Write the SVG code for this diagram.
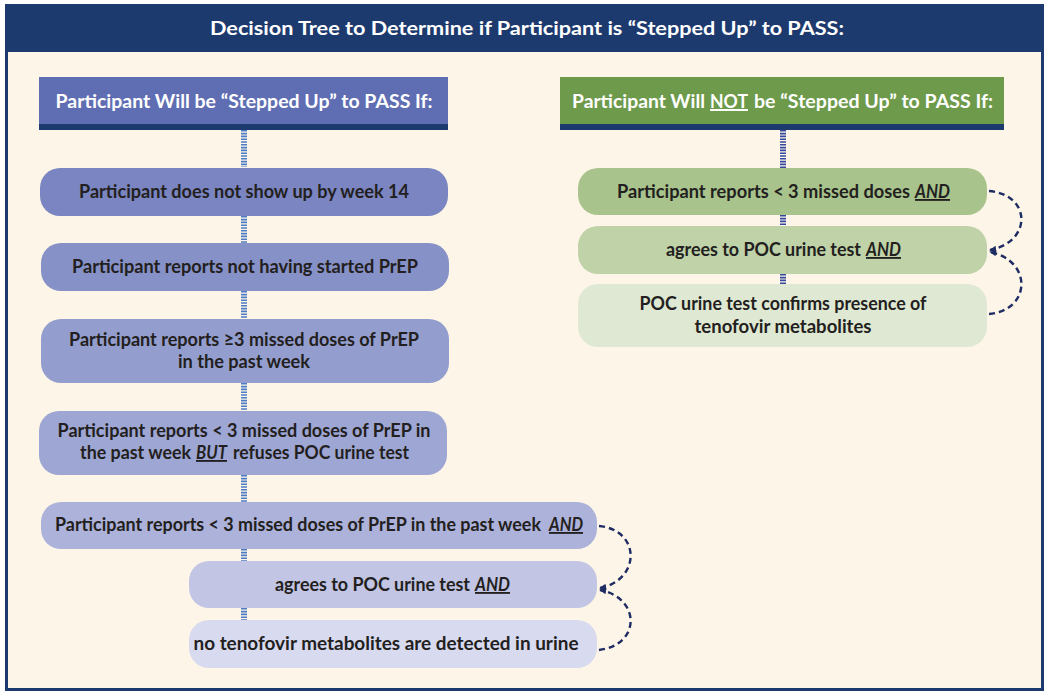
<svg xmlns="http://www.w3.org/2000/svg" width="1050" height="697" viewBox="0 0 1050 697">
<style>
.t{font-family:Lato,"Open Sans","Liberation Sans",sans-serif;font-weight:700;font-size:18.5px;fill:#231f20;text-anchor:middle}
.h{font-family:Lato,"Open Sans","Liberation Sans",sans-serif;font-weight:700;font-size:19.5px;fill:#ffffff;text-anchor:middle}
.s{text-anchor:start}
.u{text-decoration:underline}
.i{font-style:italic;text-decoration:underline}
.lad{stroke-width:6;stroke-dasharray:1.6 1.2;fill:none}
.ll{stroke:#4d7cc4}
.lr{stroke:#34489e}
.dc{fill:none;stroke:#1e2c63;stroke-width:2.4;stroke-dasharray:6 4}
</style>
<defs>
<marker id="ah" viewBox="0 0 8 8" refX="7" refY="4" markerWidth="7" markerHeight="7" markerUnits="userSpaceOnUse" orient="auto">
<path d="M0,0.5 L8,4 L0,7.5 Z" fill="#1e2c63"/>
</marker>
</defs>
<rect x="0" y="0" width="1050" height="697" fill="#ffffff"/>
<rect id="frame" x="6.5" y="5.5" width="1036" height="684" fill="#fdf6e8" stroke="#1d3a6e" stroke-width="3"/>
<g id="title">
<rect x="6" y="5" width="1037" height="47" fill="#1d3a6e"/>
<text class="h" x="527" y="35" font-size="21.5" textLength="634" lengthAdjust="spacingAndGlyphs">Decision Tree to Determine if Participant is “Stepped Up” to PASS:</text>
</g>
<g id="header-left">
<rect x="39" y="77" width="409" height="53" fill="#5f6eb3"/>
<rect x="39" y="124" width="409" height="6" fill="#1d3a6e"/>
<text class="h" x="244" y="108" textLength="377" lengthAdjust="spacingAndGlyphs">Participant Will be “Stepped Up” to PASS If:</text>
</g>
<g id="header-right">
<rect x="560" y="77" width="444" height="53" fill="#6e9a4b"/>
<rect x="560" y="124" width="444" height="6" fill="#1d3a6e"/>
<text class="h s" x="572" y="108" textLength="133" lengthAdjust="spacingAndGlyphs">Participant Will</text>
<text class="h s u" x="710" y="108" textLength="38" lengthAdjust="spacingAndGlyphs">NOT</text>
<text class="h s" x="754" y="108" textLength="239" lengthAdjust="spacingAndGlyphs">be “Stepped Up” to PASS If:</text>
</g>
<g id="connectors">
<line class="lad ll" x1="244" y1="130" x2="244" y2="167"/>
<line class="lad ll" x1="244" y1="216" x2="244" y2="243"/>
<line class="lad ll" x1="244" y1="291" x2="244" y2="319"/>
<line class="lad ll" x1="244" y1="383" x2="244" y2="411"/>
<line class="lad ll" x1="244" y1="475" x2="244" y2="502"/>
<line class="lad ll" x1="244" y1="549" x2="244" y2="561"/>
<line class="lad ll" x1="244" y1="608" x2="244" y2="620"/>
<line class="lad lr" x1="783" y1="130" x2="783" y2="168"/>
<line class="lad lr" x1="783" y1="215" x2="783" y2="226"/>
<line class="lad lr" x1="783" y1="274" x2="783" y2="284"/>
<path class="dc" d="M599,526 C641,530 641,580 600,588" marker-end="url(#ah)"/>
<path class="dc" d="M599,650 C641,645 641,598 600,590" marker-end="url(#ah)"/>
<path class="dc" d="M989,191 C1032,195 1032,242 990,250" marker-end="url(#ah)"/>
<path class="dc" d="M989,314 C1032,310 1032,260 990,252" marker-end="url(#ah)"/>
</g>
<g id="L1">
<rect x="40" y="168" width="408" height="48" rx="20" fill="#7a85c1"/>
<text class="t" x="244" y="198" textLength="330" lengthAdjust="spacingAndGlyphs">Participant does not show up by week 14</text>
</g>
<g id="L2">
<rect x="41" y="243" width="408" height="48" rx="20" fill="#8691c7"/>
<text class="t" x="245" y="273" textLength="346" lengthAdjust="spacingAndGlyphs">Participant reports not having started PrEP</text>
</g>
<g id="L3">
<rect x="41" y="319" width="408" height="64" rx="20" fill="#949ece"/>
<text class="t" x="244" y="346" textLength="350" lengthAdjust="spacingAndGlyphs">Participant reports ≥3 missed doses of PrEP</text>
<text class="t" x="244" y="368" textLength="132" lengthAdjust="spacingAndGlyphs">in the past week</text>
</g>
<g id="L4">
<rect x="39" y="411" width="408" height="64" rx="20" fill="#9ea6d3"/>
<text class="t" x="244" y="437" textLength="373" lengthAdjust="spacingAndGlyphs">Participant reports &lt; 3 missed doses of PrEP in</text>
<text class="t s" x="80" y="459" textLength="111" lengthAdjust="spacingAndGlyphs">the past week</text>
<text class="t s i" x="196" y="459" textLength="31" lengthAdjust="spacingAndGlyphs">BUT</text>
<text class="t s" x="233" y="459" textLength="176" lengthAdjust="spacingAndGlyphs">refuses POC urine test</text>
</g>
<g id="L5">
<rect x="41" y="502" width="556" height="47" rx="20" fill="#adb2da"/>
<text class="t s" x="55" y="531" font-size="17" textLength="486" lengthAdjust="spacingAndGlyphs">Participant reports &lt; 3 missed doses of PrEP in the past week</text>
<text class="t s i" x="549" y="531" textLength="34" lengthAdjust="spacingAndGlyphs">AND</text>
</g>
<g id="L6">
<rect x="189" y="561" width="408" height="47" rx="20" fill="#c2c5e4"/>
<text class="t s" x="275" y="591" textLength="195" lengthAdjust="spacingAndGlyphs">agrees to POC urine test</text>
<text class="t s i" x="475" y="591" textLength="35" lengthAdjust="spacingAndGlyphs">AND</text>
</g>
<g id="L7">
<rect x="189" y="620" width="408" height="48" rx="20" fill="#d8daef"/>
<text class="t" x="386" y="650" textLength="385" lengthAdjust="spacingAndGlyphs">no tenofovir metabolites are detected in urine</text>
</g>
<g id="R1">
<rect x="578" y="168" width="409" height="47" rx="20" fill="#a8c38c"/>
<text class="t s" x="617" y="198" textLength="293" lengthAdjust="spacingAndGlyphs">Participant reports &lt; 3 missed doses</text>
<text class="t s i" x="915" y="198" textLength="35" lengthAdjust="spacingAndGlyphs">AND</text>
</g>
<g id="R2">
<rect x="578" y="226" width="409" height="48" rx="20" fill="#bfd2a8"/>
<text class="t s" x="666" y="256" textLength="195" lengthAdjust="spacingAndGlyphs">agrees to POC urine test</text>
<text class="t s i" x="866" y="256" textLength="35" lengthAdjust="spacingAndGlyphs">AND</text>
</g>
<g id="R3">
<rect x="578" y="284" width="409" height="63" rx="20" fill="#dfe8d3"/>
<text class="t" x="783" y="310" textLength="287" lengthAdjust="spacingAndGlyphs">POC urine test confirms presence of</text>
<text class="t" x="783" y="333" textLength="177" lengthAdjust="spacingAndGlyphs">tenofovir metabolites</text>
</g>
</svg>
